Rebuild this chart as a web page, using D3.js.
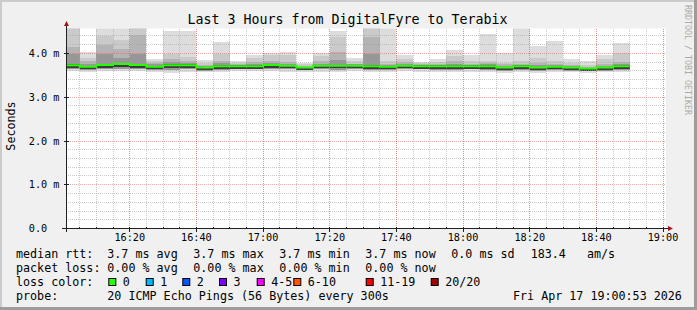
<!DOCTYPE html>
<html>
<head>
<meta charset="utf-8">
<script src="https://cdn.jsdelivr.net/npm/d3@7"></script>
<style>
body { margin: 0; background: #f0f0f0; }
svg { display: block; }
text { font-family: "DejaVu Sans Mono", monospace; fill: #000; white-space: pre; }
</style>
</head>
<body>
<svg id="chart" width="697" height="310"></svg>
<script>
// ---- values (ms), one per 5 minute step from 16:00 ----
var medV  = [3.73,3.70,3.74,3.76,3.74,3.70,3.73,3.73,3.68,3.71,3.71,3.71,3.74,3.72,3.68,3.72,3.72,
             3.72,3.71,3.70,3.72,3.71,3.71,3.71,3.71,3.71,3.68,3.71,3.68,3.70,3.68,3.66,3.68,3.71];
// outer smoke (lightest) top
var topV  = [4.80,4.03,4.80,4.80,4.80,3.87,4.51,4.51,3.85,4.26,3.82,3.97,4.02,4.04,3.79,4.02,4.51,
             3.90,4.80,4.80,3.97,3.81,3.88,4.09,3.96,4.44,4.02,4.80,4.17,4.29,3.88,3.83,3.96,4.25];
// second band top
var midV  = [4.80,3.90,4.41,4.32,4.80,3.82,4.00,3.92,3.79,4.00,3.78,3.90,3.96,3.96,3.75,3.94,4.38,
             3.82,4.80,3.82,3.87,3.79,3.81,3.94,3.82,3.82,3.79,3.82,3.90,3.82,3.79,3.74,3.88,4.02];
// third band top
var innV  = [4.15,3.82,4.19,4.11,4.42,3.78,3.87,3.84,3.74,3.84,3.75,3.81,3.82,3.81,3.72,3.82,4.03,
             3.77,4.38,3.77,3.80,3.75,3.77,3.82,3.77,3.79,3.75,3.77,3.78,3.77,3.74,3.70,3.76,3.81];
// fourth band top
var coreV = [4.00,3.77,4.00,3.90,4.00,3.75,3.80,3.78,3.71,3.78,3.73,3.76,3.78,3.76,3.70,3.76,3.85,
             3.75,4.00,3.74,3.76,3.73,3.74,3.76,3.74,3.75,3.72,3.74,3.73,3.74,3.71,3.68,3.72,3.76];
// bottom of the inner bands
var lowV  = [3.64,3.63,3.64,3.65,3.64,3.63,3.63,3.64,3.61,3.63,3.64,3.64,3.64,3.64,3.62,3.64,3.63,
             3.64,3.63,3.63,3.64,3.64,3.63,3.63,3.64,3.63,3.61,3.63,3.61,3.63,3.61,3.60,3.61,3.63];
// bottom of the outer smoke
var botV  = [3.59,3.58,3.59,3.60,3.59,3.58,3.56,3.58,3.57,3.58,3.59,3.59,3.59,3.58,3.57,3.58,3.58,
             3.59,3.58,3.58,3.59,3.58,3.58,3.57,3.58,3.58,3.56,3.57,3.56,3.58,3.57,3.56,3.57,3.58];

var yTicks = [0, 1, 2, 3, 4];
var yTickLabels = ["0.0", "1.0 m", "2.0 m", "3.0 m", "4.0 m"];

var lossLabels = ["0", "1", "2", "3", "4-5", "6-10", "11-19", "20/20"];
var lossColors = ["#26ff00", "#00b8ff", "#0059ff", "#7e00ff", "#ff00ff", "#ff5500", "#ff0000", "#a10000"];

var rttStats  = ["3.7 ms avg", "3.7 ms max", "3.7 ms min", "3.7 ms now", "0.0 ms sd", "183.4   am/s"];
var lossStats = ["0.00 % avg", "0.00 % max", "0.00 % min", "0.00 % now"];
var probeText = "20 ICMP Echo Pings (56 Bytes) every 300s";
var stampText = "Fri Apr 17 19:00:53 2026";
var titleText = "Last 3 Hours from DigitalFyre to Terabix";

// ---- layout ----
var W = 697, H = 310;
var X0 = 66, X1 = 666, YB = 228.5, YT = 28.5;
var t0 = Date.UTC(2026, 3, 17, 16, 0, 53), t1 = Date.UTC(2026, 3, 17, 19, 0, 53);
var binStart = Date.UTC(2026, 3, 17, 16, 0, 0), step = 300e3;

var svg = d3.select("#chart");
var x = d3.scaleUtc().domain([t0, t1]).range([X0, X1]);
var y = d3.scaleLinear().domain([0, 200 / 43.75]).range([YB, YT]);
var fmt = d3.utcFormat("%H:%M");

// frame
svg.append("rect").attr("width", W).attr("height", H).attr("fill", "#f0f0f0");
svg.append("rect").attr("x", 0).attr("y", 0).attr("width", W).attr("height", 2).attr("fill", "#cbcbcb");
svg.append("rect").attr("x", 0).attr("y", 0).attr("width", 2).attr("height", H).attr("fill", "#cbcbcb");
svg.append("rect").attr("x", 0).attr("y", H - 3).attr("width", W).attr("height", 3).attr("fill", "#9c9c9c");
svg.append("rect").attr("x", W - 3).attr("y", 0).attr("width", 3).attr("height", H).attr("fill", "#9c9c9c");

// canvas
svg.append("rect").attr("x", X0).attr("y", YT).attr("width", X1 - X0).attr("height", YB - YT).attr("fill", "#fff");
svg.append("clipPath").attr("id", "plot")
  .append("rect").attr("x", X0).attr("y", YT).attr("width", X1 - X0).attr("height", YB - YT);

var bins = medV.map(function (m, i) {
  return { s: Math.max(t0, binStart + i * step), e: binStart + (i + 1) * step, i: i };
});

// smoke bands, outer to inner
var bands = [
  { hi: topV,  lo: botV, color: "#dddddd" },
  { hi: midV,  lo: lowV, color: "#cacaca" },
  { hi: innV,  lo: lowV, color: "#b4b4b4" },
  { hi: coreV, lo: lowV, color: "#979797" }
];
var smoke = svg.append("g").attr("clip-path", "url(#plot)").attr("shape-rendering", "crispEdges");
bands.forEach(function (b) {
  smoke.selectAll(null).data(bins).enter().append("rect")
    .attr("x", function (d) { return x(d.s); })
    .attr("width", function (d) { return x(d.e) - x(d.s); })
    .attr("y", function (d) { return y(b.hi[d.i]); })
    .attr("height", function (d) { return y(b.lo[d.i]) - y(b.hi[d.i]); })
    .attr("fill", b.color);
});
// darkest pair right around the median
smoke.selectAll(null).data(bins).enter().append("rect")
  .attr("x", function (d) { return x(d.s); })
  .attr("width", function (d) { return x(d.e) - x(d.s); })
  .attr("y", function (d) { return y(medV[d.i] + 0.02); })
  .attr("height", function (d) { return y(medV[d.i] - 0.06) - y(medV[d.i] + 0.02); })
  .attr("fill", "#3c3c3c");

// grid
var grid = svg.append("g").attr("shape-rendering", "crispEdges");
var minorX = d3.utcMinute.every(5).range(t0, t1 + 1);
var majorX = d3.utcMinute.every(20).range(t0, t1 + 1);
var minorY = d3.range(1, 23).map(function (k) { return k * 0.2; }).filter(function (v) { return Math.abs(v - Math.round(v)) > 1e-6; });
function px(v) { return Math.floor(v) + 0.5; }
var minorCol = "rgba(160,160,160,0.55)", majorCol = "rgba(230,90,90,0.5)";

grid.selectAll(null).data(minorX).enter().append("line")
  .attr("x1", function (d) { return px(x(d)); }).attr("x2", function (d) { return px(x(d)); })
  .attr("y1", YT).attr("y2", YB)
  .attr("stroke", minorCol).attr("stroke-dasharray", "1,1");
grid.selectAll(null).data(minorY).enter().append("line")
  .attr("x1", X0).attr("x2", X1)
  .attr("y1", function (d) { return px(y(d)); }).attr("y2", function (d) { return px(y(d)); })
  .attr("stroke", minorCol).attr("stroke-dasharray", "1,1");
grid.selectAll(null).data(majorX).enter().append("line")
  .attr("x1", function (d) { return px(x(d)); }).attr("x2", function (d) { return px(x(d)); })
  .attr("y1", YT).attr("y2", YB)
  .attr("stroke", majorCol).attr("stroke-dasharray", "1,1");
grid.selectAll(null).data(yTicks.slice(1)).enter().append("line")
  .attr("x1", X0).attr("x2", X1)
  .attr("y1", function (d) { return px(y(d)); }).attr("y2", function (d) { return px(y(d)); })
  .attr("stroke", majorCol).attr("stroke-dasharray", "1,1");

// median line, coloured by loss (0 loss here)
var last = bins[bins.length - 1];
var medPts = bins.map(function (d) { return [x(d.s), y(medV[d.i])]; });
medPts.push([x(last.e), y(medV[last.i])]);
svg.append("path")
  .attr("clip-path", "url(#plot)")
  .attr("d", d3.line().curve(d3.curveStepAfter)(medPts))
  .attr("fill", "none").attr("stroke", lossColors[0]).attr("stroke-width", 2);

// axes
var axisCol = "#202020", arrowCol = "#a31515";
var ax = svg.append("g").attr("stroke", axisCol).attr("shape-rendering", "crispEdges");
ax.append("line").attr("x1", 62).attr("x2", 669).attr("y1", YB).attr("y2", YB);
ax.append("line").attr("x1", X0 + 0.5).attr("x2", X0 + 0.5).attr("y1", 232).attr("y2", 25);
ax.selectAll(null).data(minorX).enter().append("line")
  .attr("x1", function (d) { return px(x(d)); }).attr("x2", function (d) { return px(x(d)); })
  .attr("y1", YB - 2).attr("y2", YB);
ax.selectAll(null).data(majorX).enter().append("line")
  .attr("x1", function (d) { return px(x(d)); }).attr("x2", function (d) { return px(x(d)); })
  .attr("y1", YB - 2).attr("y2", YB + 3);
ax.selectAll(null).data(yTicks).enter().append("line")
  .attr("x1", X0 - 2).attr("x2", X0 + 3)
  .attr("y1", function (d) { return px(y(d)); }).attr("y2", function (d) { return px(y(d)); });
svg.append("path").attr("d", "M673,228.5 L668,226 L668,231 Z").attr("fill", arrowCol);
svg.append("path").attr("d", "M66.5,21 L64,26 L69,26 Z").attr("fill", arrowCol);

// tick labels
svg.append("g").selectAll("text").data(majorX).enter().append("text")
  .attr("x", function (d) { return x(d); }).attr("y", 240.7)
  .attr("text-anchor", "middle").style("font-size", "10.2px")
  .text(function (d) { return fmt(d); });
svg.append("g").selectAll("text").data(yTicks).enter().append("text")
  .attr("x", 28.8).attr("y", function (d) { return y(d) + 3.6; })
  .style("font-size", "10.2px")
  .text(function (d, i) { return yTickLabels[i]; });

// title, unit, watermark
svg.append("text").attr("x", 347.5).attr("y", 24).attr("text-anchor", "middle")
  .style("font-size", "13.3px").text(titleText);
svg.append("text").attr("transform", "translate(15,126) rotate(-90)").attr("text-anchor", "middle")
  .style("font-size", "11.7px").text("Seconds");
svg.append("text").attr("transform", "translate(685,5) rotate(90)")
  .style("font-size", "8.3px").style("fill", "#aaaaaa").text("RRDTOOL / TOBI OETIKER");

// legend
var leg = svg.append("g").style("font-size", "11.7px");
var rowY = [258, 272, 286, 300];
var colX = function (k) { return 107.3 + 86 * k; };
leg.append("text").attr("x", 16).attr("y", rowY[0]).text("median rtt:");
rttStats.forEach(function (s, k) {
  leg.append("text").attr("x", k < 5 ? colX(k) : 530.7).attr("y", rowY[0]).text(s);
});
leg.append("text").attr("x", 16).attr("y", rowY[1]).text("packet loss:");
lossStats.forEach(function (s, k) {
  leg.append("text").attr("x", colX(k)).attr("y", rowY[1]).text(s);
});
leg.append("text").attr("x", 16).attr("y", rowY[2]).text("loss color:");
var swatchX = [108.3, 145.7, 182.3, 219, 256.7, 293.3, 365.7, 430.7];
lossLabels.forEach(function (l, k) {
  leg.append("rect").attr("x", swatchX[k] + 0.5).attr("y", 278.5).attr("width", 7).attr("height", 7)
    .attr("fill", lossColors[k]).attr("stroke", "#000").attr("stroke-width", 1);
  leg.append("text").attr("x", swatchX[k] + 14.5).attr("y", rowY[2]).text(l);
});
leg.append("text").attr("x", 16).attr("y", rowY[3]).text("probe:");
leg.append("text").attr("x", 107.3).attr("y", rowY[3]).text(probeText);
leg.append("text").attr("x", 513).attr("y", rowY[3]).text(stampText);
</script>
</body>
</html>
